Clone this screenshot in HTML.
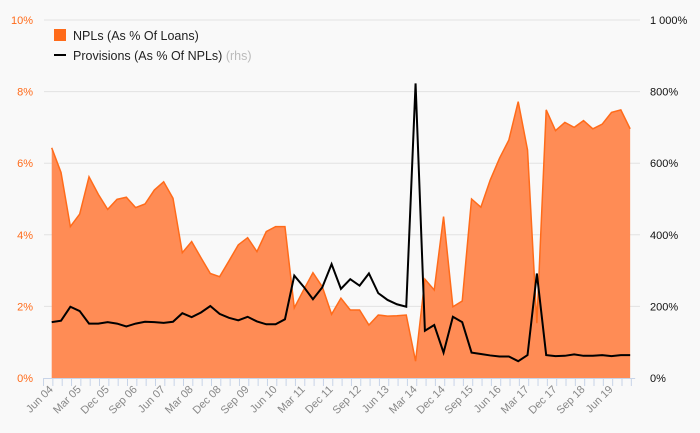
<!DOCTYPE html>
<html><head><meta charset="utf-8"><style>
html,body{margin:0;padding:0;background:#f9f9f9;}
svg{display:block;font-family:"Liberation Sans",sans-serif;}
</style></head><body>
<svg id="chart" width="700" height="433" xmlns="http://www.w3.org/2000/svg">
<rect width="700" height="433" fill="#f9f9f9"/>
<g id="grid"></g><g id="area"></g><g id="line"></g><g id="axes"></g>
<g>
<rect x="54" y="29" width="12" height="12" fill="#ff6b1a"/>
<text x="73" y="40" font-size="12.5" fill="#222">NPLs (As % Of Loans)</text>
<line x1="54" y1="55" x2="66" y2="55" stroke="#000" stroke-width="2"/>
<text x="73" y="60" font-size="12.5" fill="#222">Provisions (As % Of NPLs) <tspan fill="#bbb">(rhs)</tspan></text>
</g>
</svg>
<script>
const categories = (function(){const m=["Jun","Sep","Dec","Mar"];const a=[];for(let k=0;k<63;k++){const q=k%4;const yr=4+Math.floor((k+(q===3?1:0)+0)/4)+(q===3?0:0);a.push(m[q]);}return a;})();
const xLabels = ["Jun 04","Mar 05","Dec 05","Sep 06","Jun 07","Mar 08","Dec 08","Sep 09","Jun 10","Mar 11","Dec 11","Sep 12","Jun 13","Mar 14","Dec 14","Sep 15","Jun 16","Mar 17","Dec 17","Sep 18","Jun 19"];
const nplValues = [6.43,5.74,4.23,4.58,5.62,5.13,4.71,4.99,5.05,4.76,4.86,5.25,5.48,5.02,3.50,3.81,3.36,2.92,2.83,3.27,3.72,3.92,3.53,4.09,4.23,4.23,1.96,2.46,2.94,2.55,1.78,2.23,1.90,1.90,1.48,1.76,1.73,1.74,1.76,0.47,2.76,2.46,4.51,1.99,2.15,5.00,4.77,5.53,6.14,6.65,7.72,6.37,1.53,7.49,6.91,7.14,7.00,7.19,6.96,7.09,7.42,7.49,6.96];
const provisionValues = [156,160,199,187,152,152,156,152,144,152,157,156,154,157,181,170,183,201,179,168,161,171,158,150,150,164,286,255,220,253,318,249,276,258,292,237,218,206,199,823,132,148,71,171,156,71,67,63,60,60,47,64,292,64,61,62,66,62,62,64,61,64,64];
const leftTicks = ["0%","2%","4%","6%","8%","10%"];
const rightTicks = ["0%","200%","400%","600%","800%","1 000%"];
const leftTickValues = [0,2,4,6,8,10];
const rightTickValues = [0,200,400,600,800,1000];

const NS="http://www.w3.org/2000/svg";
const X0=51.7, DX=9.33, YB=378, YT=20;
const x = i => X0 + i*DX;
const yL = v => YB - (v/10)*(YB-YT);
const yR = v => YB - (v/1000)*(YB-YT);
function mk(tag, attrs, parent){const e=document.createElementNS(NS,tag);for(const k in attrs)e.setAttribute(k,attrs[k]);parent.appendChild(e);return e;}
const grid=document.getElementById('grid'), axes=document.getElementById('axes');
leftTickValues.forEach((v,i)=>{
  if(v>0){const g=mk('line',{x1:44,x2:640,y1:yL(v),y2:yL(v),stroke:'#e2e2e2','stroke-width':1},grid);
  
  }
  const t=mk('text',{x:33,y:yL(v)+4,'text-anchor':'end','font-size':11,fill:'#ff6b1a'},axes);t.textContent=leftTicks[i];
  
  
});
rightTickValues.forEach((v,i)=>{
  const t=mk('text',{x:650,y:yR(v)+4,'font-size':11,fill:'#111'},axes);t.textContent=rightTicks[i];
  
  
});
// area
let d='M'+x(0)+','+YB;
nplValues.forEach((v,i)=>{d+=' L'+x(i)+','+yL(v);});
d+=' L'+x(nplValues.length-1)+','+YB+' Z';
const ar=mk('path',{d:d,fill:'#ff8c55',stroke:'none'},document.getElementById('area'));


const al=mk('polyline',{points:nplValues.map((v,i)=>x(i)+','+yL(v)).join(' '),fill:'none',stroke:'#ff6b1a','stroke-width':1.5},document.getElementById('area'));


const pl=mk('polyline',{points:provisionValues.map((v,i)=>x(i)+','+yR(v)).join(' '),fill:'none',stroke:'#000','stroke-width':2,'stroke-linejoin':'miter'},document.getElementById('line'));


// x axis
const ax=mk('line',{x1:44,x2:x(62)+5,y1:YB+0.5,y2:YB+0.5,stroke:'#c8d4e8','stroke-width':1},axes);


for(let i=0;i<=63;i++){
  const tx=x(i)-DX/2-4+0.5;
  const tk=mk('line',{x1:tx,x2:tx,y1:YB,y2:YB+8,stroke:'#c8d4e8','stroke-width':1},axes);
  
  
}
xLabels.forEach((lab,j)=>{
  const px=x(j*3)+2, py=YB+12;
  const t=mk('text',{x:px,y:py,'text-anchor':'end','font-size':11,fill:'#888',transform:'rotate(-45 '+px+' '+py+')'},axes);
  t.textContent=lab;
  
  
});
</script>
</body></html>
